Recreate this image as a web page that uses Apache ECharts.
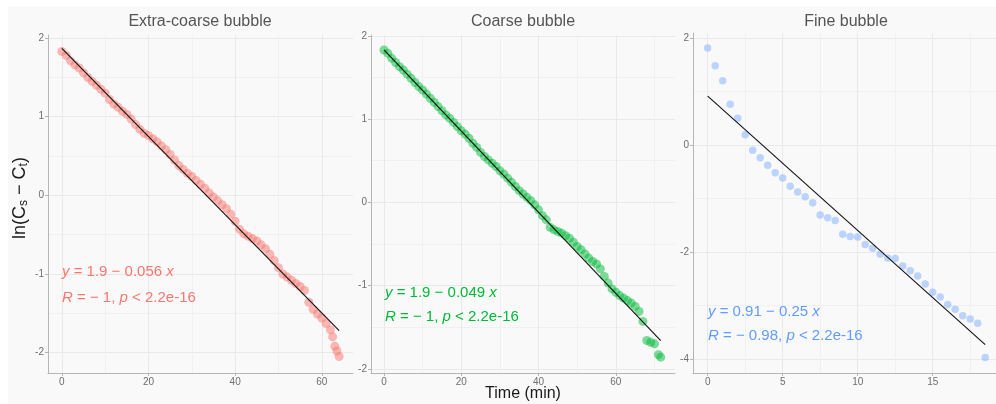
<!DOCTYPE html>
<html>
<head>
<meta charset="utf-8">
<script src="https://cdn.jsdelivr.net/npm/echarts@6/dist/echarts.min.js"></script>
<style>
  html, body { margin: 0; padding: 0; background: #fff; }
  #chart { width: 996px; height: 404px; }
</style>
</head>
<body>
<div id="chart"></div>
<script>
// facet titles and colours
const panelTitles = ["Extra-coarse bubble", "Coarse bubble", "Fine bubble"];
const panelColors = ["#F8766D", "#00BA38", "#619CFF"];

// Extra-coarse bubble: time (min) vs ln(Cs - Ct)
const extraTime = [0, 1, 2, 3, 4, 5, 6, 7, 8, 9, 10, 11, 12, 13, 14, 15, 16, 17, 18, 19,
  20, 21, 22, 23, 24, 25, 26, 27, 28, 29, 30, 31, 32, 33, 34, 35, 36, 37, 38, 39,
  40, 41, 42, 43, 44, 45, 46, 47, 48, 49, 50, 51, 52, 53, 54, 55, 56, 57, 58, 59,
  60, 61, 62, 62.5, 63, 63.5, 64];
const extraLn = [1.83, 1.78, 1.71, 1.66, 1.62, 1.56, 1.50, 1.45, 1.40, 1.35, 1.30, 1.22, 1.16, 1.12, 1.07, 1.03, 0.97, 0.90, 0.84, 0.79,
  0.76, 0.72, 0.68, 0.63, 0.58, 0.52, 0.45, 0.38, 0.33, 0.28, 0.24, 0.19, 0.14, 0.09, 0.03, -0.02, -0.07, -0.12, -0.17, -0.24,
  -0.33, -0.43, -0.49, -0.52, -0.55, -0.58, -0.63, -0.68, -0.75, -0.83, -0.92, -1.00, -1.04, -1.08, -1.12, -1.16, -1.21, -1.36, -1.45, -1.51,
  -1.56, -1.63, -1.71, -1.80, -1.92, -1.98, -2.05];
const extraFit = [[0, 1.87], [64, -1.72]];

// Coarse bubble
const coarseTime = [0, 1, 2, 3, 4, 5, 6, 7, 8, 9, 10, 11, 12, 13, 14, 15, 16, 17, 18, 19,
  20, 21, 22, 23, 24, 25, 26, 27, 28, 29, 30, 31, 32, 33, 34, 35, 36, 37, 38, 39,
  40, 41, 42, 43, 44, 45, 46, 47, 48, 49, 50, 51, 52, 53, 54, 55, 56, 57, 58, 59,
  60, 61, 62, 63, 64, 65, 66, 67, 68, 69, 70, 71, 71.6];
const coarseLn = [1.83, 1.79, 1.73, 1.68, 1.63, 1.59, 1.54, 1.49, 1.44, 1.39, 1.35, 1.30, 1.25, 1.20, 1.15, 1.10, 1.05, 1.01, 0.96, 0.91,
  0.86, 0.82, 0.77, 0.71, 0.66, 0.60, 0.55, 0.51, 0.47, 0.43, 0.38, 0.34, 0.29, 0.24, 0.19, 0.14, 0.10, 0.06, 0.02, -0.03,
  -0.09, -0.16, -0.21, -0.30, -0.33, -0.35, -0.37, -0.40, -0.43, -0.48, -0.53, -0.57, -0.62, -0.67, -0.71, -0.74, -0.80, -0.89, -0.97, -1.04,
  -1.08, -1.12, -1.15, -1.18, -1.21, -1.25, -1.31, -1.43, -1.66, -1.68, -1.70, -1.83, -1.86];
const coarseFit = [[0, 1.83], [71.6, -1.66]];

// Fine bubble
const fineTime = [0, 0.5, 1, 1.5, 2, 2.5, 3, 3.5, 4, 4.5, 5, 5.5, 6, 6.5, 7, 7.5, 8, 8.5, 9, 9.5,
  10, 10.5, 11, 11.5, 12, 12.5, 13, 13.5, 14, 14.5, 15, 15.5, 16, 16.5, 17, 17.5, 18, 18.5];
const fineLn = [1.81, 1.48, 1.20, 0.76, 0.50, 0.19, -0.10, -0.24, -0.38, -0.52, -0.62, -0.77, -0.88, -0.97, -1.08, -1.31, -1.36, -1.41, -1.67, -1.71,
  -1.72, -1.86, -1.93, -2.04, -2.11, -2.12, -2.26, -2.35, -2.45, -2.60, -2.75, -2.84, -2.98, -3.07, -3.19, -3.25, -3.33, -3.97];
const fineFit = [[0, 0.91], [18.5, -3.73]];

// fit labels
const fitEquations = [["1.9 − 0.056 ", "− 1"], ["1.9 − 0.049 ", "− 1"], ["0.91 − 0.25 ", "− 0.98"]];

// tick values
const xMajor = [[0, 20, 40, 60], [0, 20, 40, 60], [0, 5, 10, 15]];
const xMinor = [[10, 30, 50], [10, 30, 50, 70], [2.5, 7.5, 12.5, 17.5]];
const yMajor = [[-2, -1, 0, 1, 2], [-2, -1, 0, 1, 2], [-4, -2, 0, 2]];
const yMinor = [[-1.5, -0.5, 0.5, 1.5], [-1.5, -0.5, 0.5, 1.5], [-3, -1, 1]];

// layout: pixel boxes and axis ranges per panel
const grids = [
  { left: 48, top: 35, width: 305, height: 338 },
  { left: 371, top: 35, width: 304, height: 338 },
  { left: 693, top: 33, width: 303, height: 340 }
];
const xRange = [[-3.2, 67.2], [-3.36, 75.3], [-0.98, 19.22]];
const yRange = [[-2.26, 2.04], [-2.05, 2.01], [-4.26, 2.09]];
const titleX = [200, 523, 846];
const labelPos = [[62, 272, 298], [385, 293, 317], [708, 312, 336]];
const dotSize = [9, 9, 7.5];
const dotAlpha = [0.5, 0.5, 0.4];

const FONT = "'Liberation Sans', Arial, sans-serif";
const AXIS_COLOR = "#b5b5b5";
const LABEL_COLOR = "#6e6e6e";

function majorAxis(i, range, ticks) {
  return {
    type: "value", gridIndex: i, min: range[0], max: range[1],
    axisLine: { show: true, onZero: false, lineStyle: { color: AXIS_COLOR, width: 1 } },
    axisTick: { show: true, length: 3, customValues: ticks, lineStyle: { color: AXIS_COLOR } },
    axisLabel: { customValues: ticks, color: LABEL_COLOR, fontSize: 10, fontFamily: FONT, margin: 4 },
    splitLine: { show: true, lineStyle: { color: "#e9e9e9", width: 1 } }
  };
}
function minorAxis(i, range, ticks) {
  return {
    type: "value", gridIndex: i, min: range[0], max: range[1],
    axisLine: { show: false }, axisLabel: { show: false, customValues: ticks },
    axisTick: { show: false, customValues: ticks },
    splitLine: { show: true, lineStyle: { color: "#f1f1f1", width: 1 } }
  };
}

const xAxes = [], yAxes = [];
for (let i = 0; i < 3; i++) {
  xAxes.push(majorAxis(i, xRange[i], xMajor[i]));
  yAxes.push(majorAxis(i, yRange[i], yMajor[i]));
}
for (let i = 0; i < 3; i++) {
  xAxes.push(minorAxis(i, xRange[i], xMinor[i]));
  yAxes.push(minorAxis(i, yRange[i], yMinor[i]));
}

const pointSets = [[extraTime, extraLn], [coarseTime, coarseLn], [fineTime, fineLn]];
const fits = [extraFit, coarseFit, fineFit];

const series = [];
pointSets.forEach(([t, v], i) => {
  series.push({
    type: "scatter", xAxisIndex: i, yAxisIndex: i, z: 3,
    data: t.map((x, k) => [x, v[k]]),
    symbolSize: dotSize[i],
    itemStyle: { color: panelColors[i], opacity: dotAlpha[i] },
    silent: true
  });
  series.push({
    type: "line", xAxisIndex: i, yAxisIndex: i, z: 4,
    data: fits[i], showSymbol: false, silent: true,
    lineStyle: { color: "#111", width: 1.1 }
  });
});

const graphic = [
  // white outer margin around the grey plot background
  { type: "rect", shape: { x: 0, y: 0, width: 996, height: 7 }, style: { fill: "#fff" }, z: 100 },
  { type: "rect", shape: { x: 0, y: 0, width: 8, height: 404 }, style: { fill: "#fff" }, z: 100 },
  {
    type: "text", x: 20, y: 198, rotation: Math.PI / 2, z: 101,
    style: {
      text: "{b|ln(C}{s|s}{b| − C}{s|t}{b|)}",
      align: "center", verticalAlign: "middle",
      rich: {
        b: { fontSize: 18, fontFamily: FONT, fill: "#1a1a1a" },
        s: { fontSize: 12, fontFamily: FONT, fill: "#1a1a1a", padding: [7, 0, 0, 0] }
      }
    }
  },
  {
    type: "text", x: 523, y: 394, z: 101,
    style: { text: "Time (min)", fontSize: 16, fontFamily: FONT, fill: "#1a1a1a", align: "center", verticalAlign: "middle" }
  }
];
panelTitles.forEach((t, i) => {
  graphic.push({
    type: "text", x: titleX[i], y: 22, z: 101,
    style: { text: t, fontSize: 16, fontFamily: FONT, fill: "#555", align: "center", verticalAlign: "middle" }
  });
  const c = panelColors[i];
  const rich = {
    n: { fontSize: 15, fontFamily: FONT, fill: c },
    i: { fontSize: 15, fontFamily: FONT, fill: c, fontStyle: "italic" }
  };
  graphic.push({
    type: "text", x: labelPos[i][0], y: labelPos[i][1], z: 101,
    style: { text: "{i|y}{n| = " + fitEquations[i][0] + "}{i|x}", rich, align: "left", verticalAlign: "middle" }
  });
  graphic.push({
    type: "text", x: labelPos[i][0], y: labelPos[i][2], z: 101,
    style: { text: "{i|R}{n| = " + fitEquations[i][1] + ", }{i|p}{n| < 2.2e-16}", rich, align: "left", verticalAlign: "middle" }
  });
});

const chart = echarts.init(document.getElementById("chart"));
chart.setOption({
  animation: false,
  backgroundColor: "#f9f9f9",
  grid: grids,
  xAxis: xAxes,
  yAxis: yAxes,
  series,
  graphic
});
</script>
</body>
</html>
